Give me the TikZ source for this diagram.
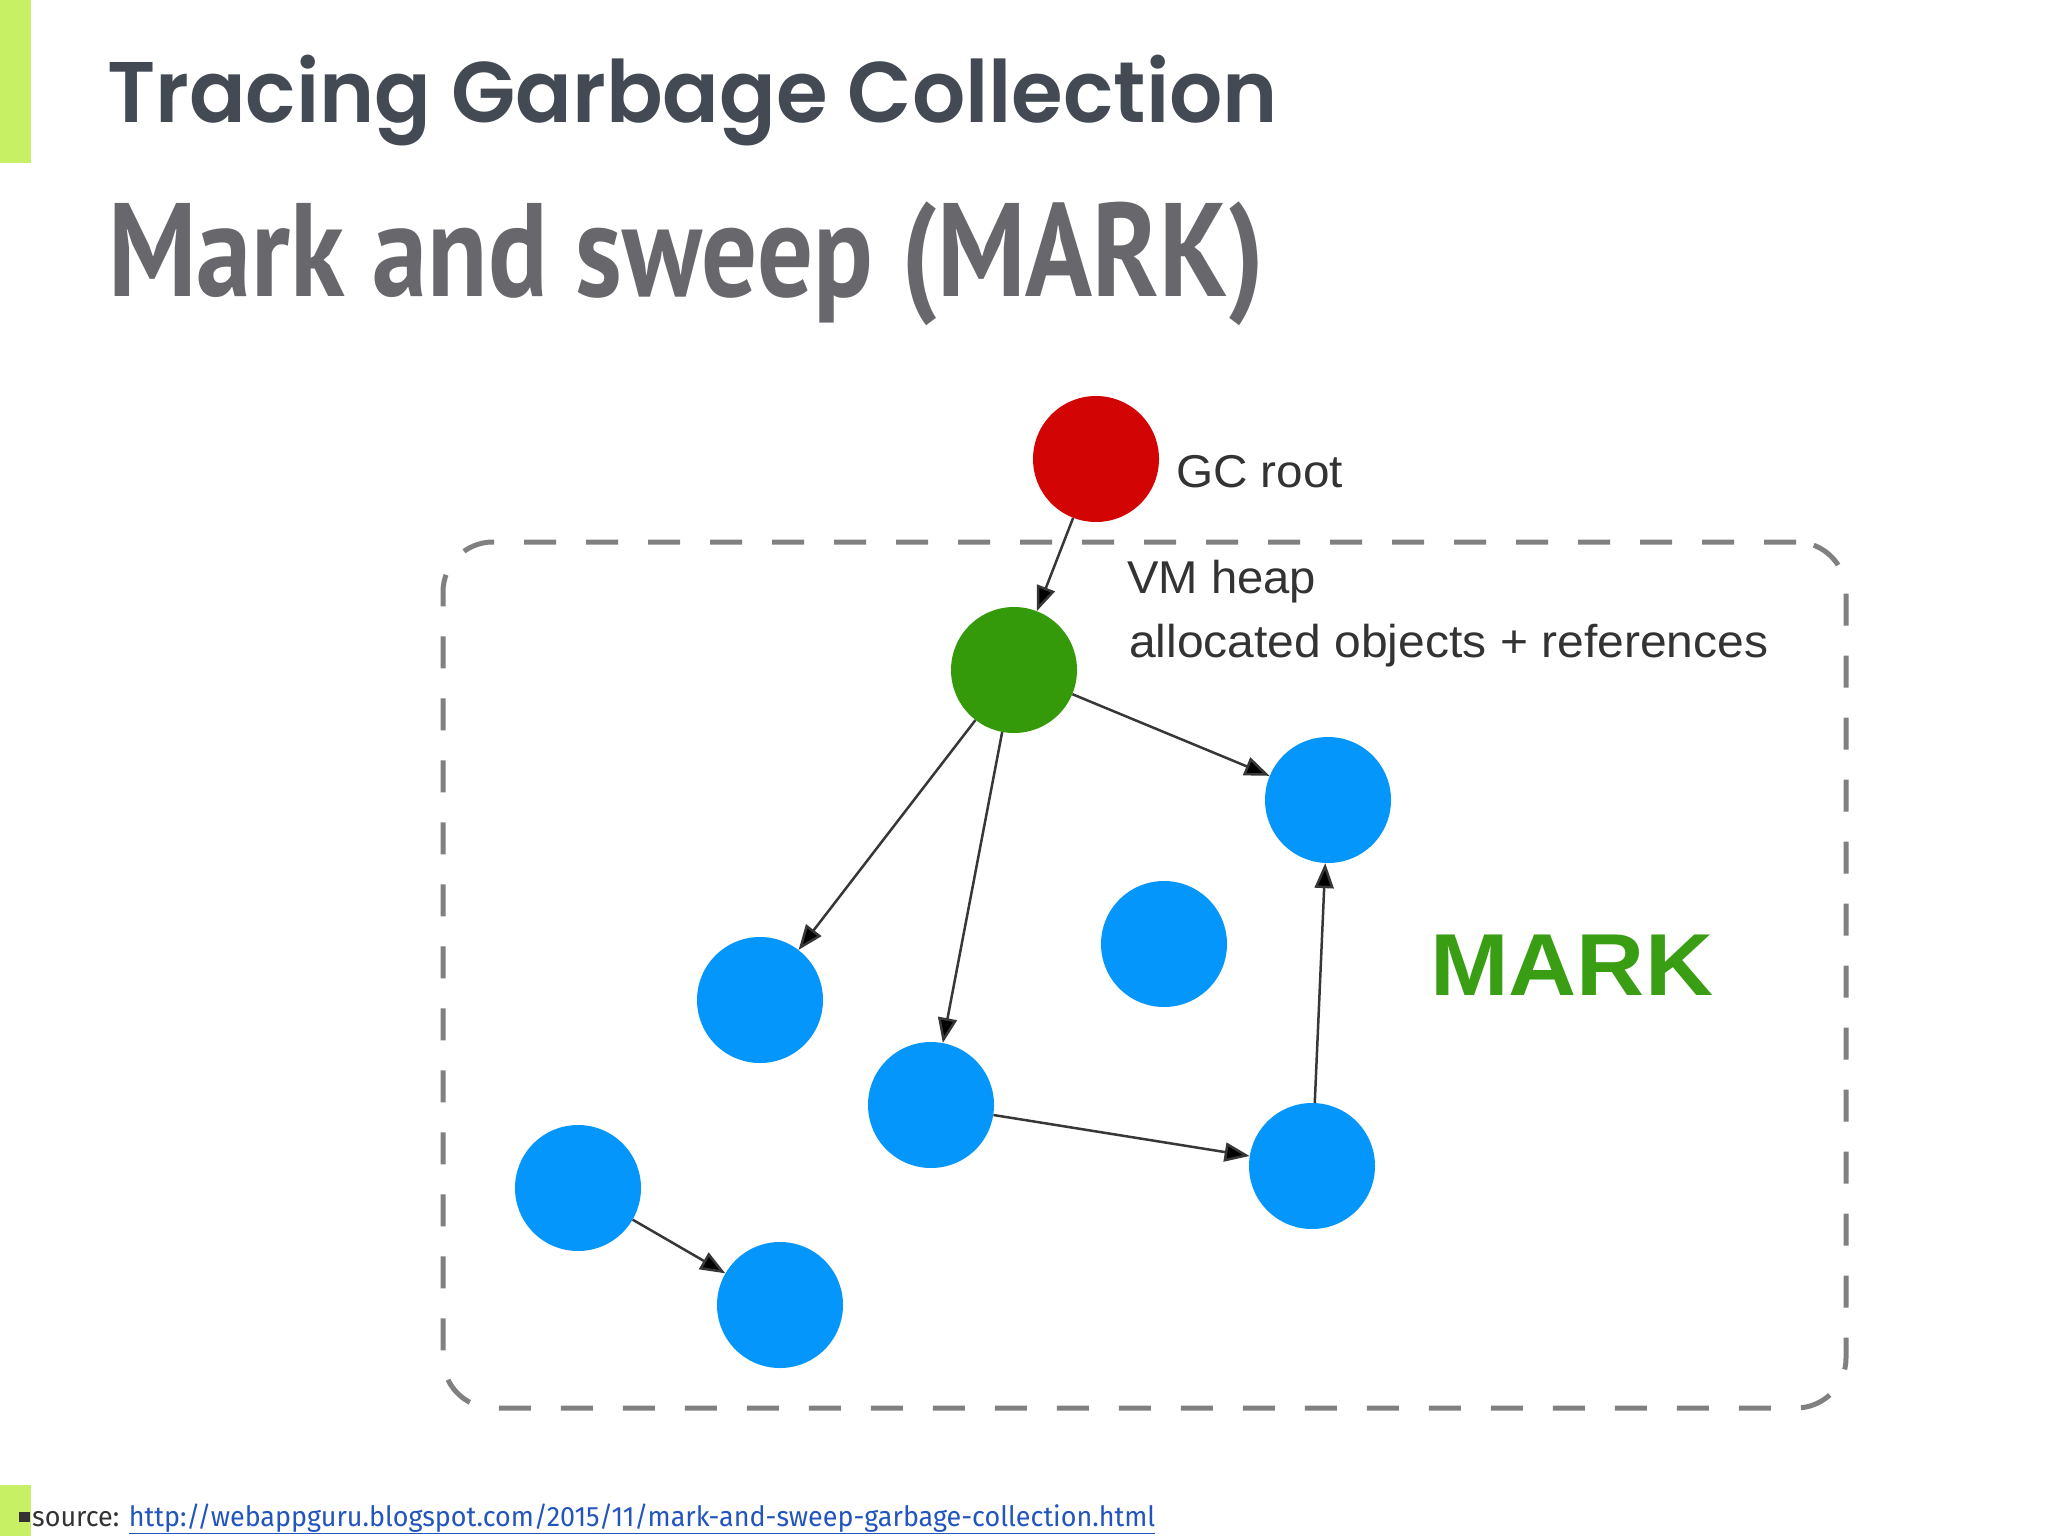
\documentclass[tikz,border=0pt]{standalone}
\usepackage{fontspec}
\usepackage{graphicx}
\setmainfont{Liberation Sans}
\newfontfamily\titlefont{Poppins}[BoldFont={Poppins SemiBold}]
\newfontfamily\subfont{PT Sans}
\newfontfamily\footfont{Fira Sans}
\usetikzlibrary{arrows.meta}
\definecolor{limebar}{RGB}{200,240,100}
\definecolor{titlegray}{RGB}{67,74,84}
\definecolor{subgray}{RGB}{104,104,108}
\definecolor{rootred}{RGB}{210,4,4}
\definecolor{objgreen}{RGB}{52,154,10}
\definecolor{markgreen}{RGB}{58,158,20}
\definecolor{objblue}{RGB}{4,150,250}
\definecolor{boxgray}{RGB}{128,128,128}
\definecolor{edgegray}{RGB}{55,55,55}
\definecolor{linkblue}{RGB}{34,85,190}
\definecolor{textdark}{RGB}{51,51,51}
\begin{document}
\begin{tikzpicture}[x=1pt,y=-1pt,
  obj/.style={circle, minimum size=126pt, inner sep=0pt, draw=none},
  edge/.style={draw=edgegray, line width=2.5pt, -{Triangle[length=25pt,width=19pt,fill=black]}},
  heapbox/.style={draw=boxgray, line width=5pt, rounded corners=50pt, dash pattern=on 32pt off 30pt, inner sep=0pt},
  lbl/.style={anchor=base west, inner sep=0pt, text=black!80}]
\fill[white] (0,0) rectangle (2048,1536);
\useasboundingbox (0,0) rectangle (2048,1536);
% side bars
\fill[limebar] (0,0) rectangle (31,163);
\fill[limebar] (0,1485) rectangle (31,1536);
% titles
\node[anchor=base west, inner sep=0pt, text=titlegray] (title) at (107,123)
  {\resizebox{1171pt}{\height}{\titlefont\bfseries\fontsize{86}{86}\selectfont Tracing Garbage Collection}};
\node[anchor=base west, inner sep=0pt, text=subgray] (subtitle) at (108,296)
  {\resizebox{1156pt}{\height}{\subfont\bfseries\fontsize{133}{133}\selectfont Mark and sweep (MARK)}};
% heap box
\node[heapbox, minimum width=1403pt, minimum height=866pt] (heap) at (1144.5,975) {};
% objects
\node[obj, fill=rootred] (root) at (1096,459) {};
\node[obj, fill=objgreen] (g) at (1014,670) {};
\node[obj, fill=objblue] (a) at (1328,800) {};
\node[obj, fill=objblue] (b) at (760,1000) {};
\node[obj, fill=objblue] (c) at (1164,944) {};
\node[obj, fill=objblue] (d) at (931,1105) {};
\node[obj, fill=objblue] (e) at (1312,1166) {};
\node[obj, fill=objblue] (f) at (578,1188) {};
\node[obj, fill=objblue] (h) at (780,1305) {};
% labels
\node[lbl] (gcroot) at (1176,487) {\resizebox{167pt}{\height}{\fontsize{46}{46}\selectfont GC root}};
\node[lbl] (vmheap) at (1127,593) {\resizebox{189pt}{\height}{\fontsize{46}{46}\selectfont VM heap}};
\node[lbl] (alloc) at (1129,657) {\resizebox{639pt}{\height}{\fontsize{46}{46}\selectfont allocated objects + references}};
\node[anchor=base west, inner sep=0pt, text=markgreen] (mark) at (1430,995)
  {\resizebox{283pt}{\height}{\bfseries\fontsize{88}{88}\selectfont MARK}};
% edges
\draw[edge] (root) -- (g);
\draw[edge] (g) -- (a);
\draw[edge] (g) -- (b);
\draw[edge] (g) -- (d);
\draw[edge] (d) -- (e);
\draw[edge] (e) -- (a);
\draw[edge] (f) -- (h);
% footer
\fill[textdark] (19,1512) rectangle (30,1522);
\node[anchor=base west, inner sep=0pt] (source) at (32,1526)
  {\resizebox{1123pt}{\height}{\footfont\fontsize{28}{28}\selectfont\textcolor{textdark}{source:} \textcolor{linkblue}{\underline{http://webappguru.blogspot.com/2015/11/mark-and-sweep-garbage-collection.html}}}};
\end{tikzpicture}
\end{document}
